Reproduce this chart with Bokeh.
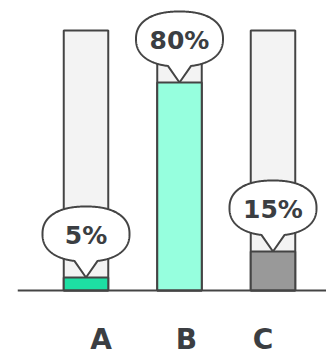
import numpy as np
from bokeh.plotting import figure
from bokeh.models import ColumnDataSource, Range1d, Span
from bokeh.core.properties import value
from bokeh.embed import file_html
from bokeh.resources import INLINE

# ---- data ----
categories = ["A", "B", "C"]
values = [5, 80, 15]
value_labels = ["5%", "80%", "15%"]
bar_colors = ["#1ddfa3", "#96ffde", "#999999"]
full_value = 100

# ---- layout constants ----
W, H = 326, 356
PX_X = 93.5          # pixels per category step
PX_Y = 2.6           # pixels per percent
LEFT = 17            # left border (baseline start)
BASE_PX = 66         # baseline distance from bottom (px)
FIRST_CENTER = 85.5  # pixel x of first category
BAR_W = 44.5 / PX_X
INK = "#444444"
TXT = "#3b3e42"
FONT = "DejaVu Sans"

xs = list(range(len(categories)))

x_start = -(FIRST_CENTER - LEFT) / PX_X
x_end = x_start + (W - LEFT) / PX_X
y_start = -BASE_PX / PX_Y
y_end = y_start + H / PX_Y

p = figure(width=W, height=H, output_backend="svg", toolbar_location=None,
           x_range=Range1d(x_start, x_end), y_range=Range1d(y_start, y_end),
           x_axis_type=None, y_axis_type=None,
           min_border_left=LEFT, min_border_right=0, min_border_top=0, min_border_bottom=0)
p.outline_line_color = None
p.background_fill_color = "white"
p.border_fill_color = "white"
p.xgrid.visible = False
p.ygrid.visible = False

src = ColumnDataSource(dict(x=xs, v=values, full=[full_value] * len(xs),
                            color=bar_colors, label=value_labels, cat=categories))

# background (100%) bars
p.vbar(x="x", top="full", bottom=0, width=BAR_W, source=src,
       fill_color="#f3f3f3", line_color=INK, line_width=2)
# value bars
p.vbar(x="x", top="v", bottom=0, width=BAR_W, source=src,
       fill_color="color", line_color=INK, line_width=2)

p.add_layout(Span(location=0, dimension="width", line_color=INK, line_width=2))

# speech bubbles
A_PX, B_PX, N = 43.5, 27.5, 2.3
PTR_H, PTR_HALF = 16, 11
t = np.linspace(-np.pi / 2, 3 * np.pi / 2, 400)
ex = A_PX * np.sign(np.cos(t)) * np.abs(np.cos(t)) ** (2 / N)
ey = B_PX * np.sign(np.sin(t)) * np.abs(np.sin(t)) ** (2 / N)
keep = ~((np.abs(ex) < PTR_HALF) & (ey < 0))
ex, ey = list(ex[keep]), list(ey[keep])
ex.append(0.0)
ey.append(-B_PX - PTR_H)
center_up = B_PX + PTR_H

bx, by, ty = [], [], []
for xi, v in zip(xs, values):
    bx.append([xi + e / PX_X for e in ex])
    by.append([v + (center_up + e) / PX_Y for e in ey])
    ty.append(v + (center_up - 1.0) / PX_Y)

bsrc = ColumnDataSource(dict(xs=bx, ys=by, x=xs, y=ty, label=value_labels))
p.patches("xs", "ys", source=bsrc, fill_color="white", line_color=INK, line_width=2)
p.text(x="x", y="y", text="label", source=bsrc, text_align="center",
       text_baseline="middle", text_font=value(FONT), text_font_style="bold",
       text_font_size="25px", text_color=TXT)

# category labels
label_nudge = [15, 7, -10]
lsrc = ColumnDataSource(dict(x=xs, y=[y_start + 0.5 / PX_Y] * len(xs),
                             text=categories, dx=label_nudge))
p.text(x="x", y="y", text="text", x_offset="dx", source=lsrc, text_align="center",
       text_baseline="bottom", text_font=value(FONT), text_font_style="bold",
       text_font_size="28px", text_color=TXT)

open("out.html", "w").write(file_html(p, INLINE))
